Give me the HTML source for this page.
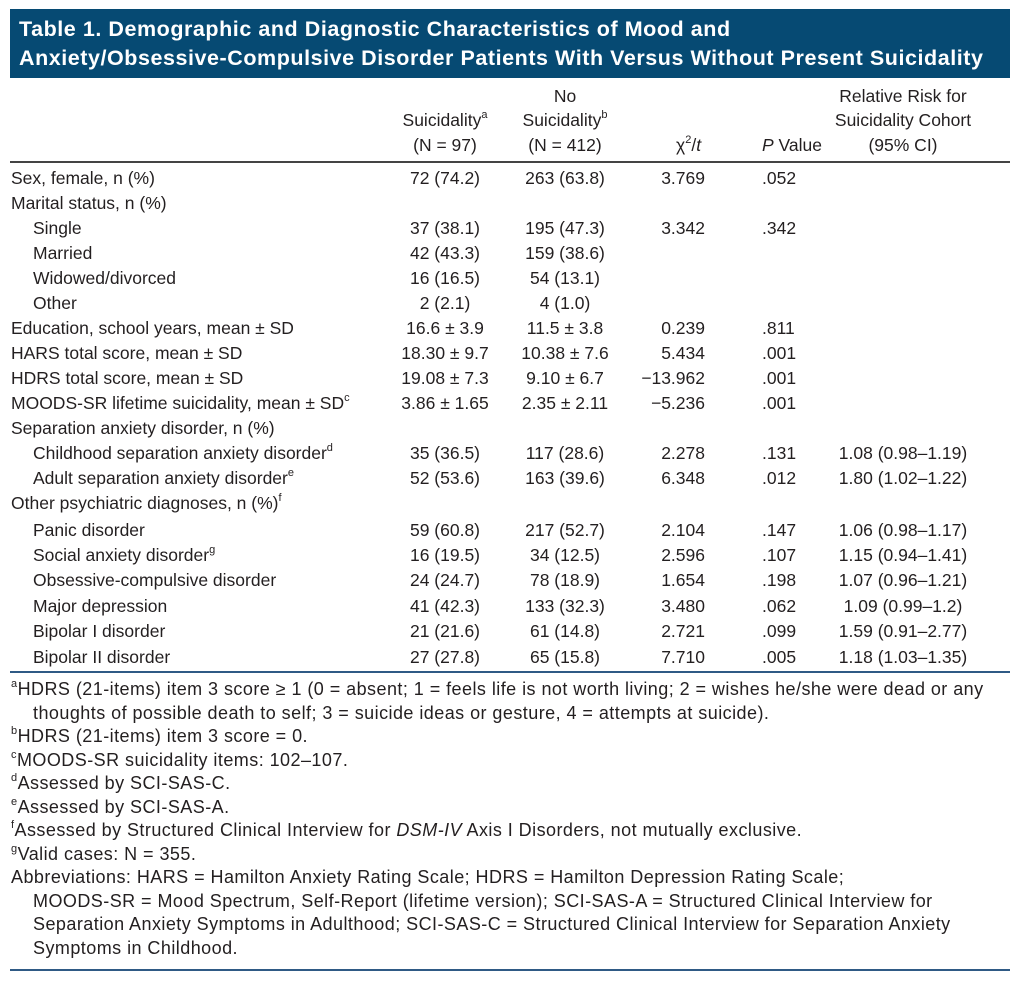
<!DOCTYPE html>
<html><head><meta charset="utf-8"><style>
body{margin:0;width:1024px;height:984px;background:#fff;font-family:"Liberation Sans",sans-serif;color:#231f20;position:relative;overflow:hidden}
.ban{position:absolute;left:10px;top:9px;width:1000px;height:69px;background:#064a73;color:#fff;font-weight:bold;font-size:21.5px;line-height:29px;padding:6px 0 0 9px;box-sizing:border-box;letter-spacing:0.55px;white-space:nowrap;overflow:hidden}
.r{position:absolute;left:0;width:1024px;height:25px;font-size:17.5px;line-height:25px;white-space:nowrap}
.r span{position:absolute}
.l{left:11px}.i{left:33px}
.c1{left:385px;width:120px;text-align:center}
.c2{left:505px;width:120px;text-align:center}
.c3{right:319px;text-align:right}
.c4{left:762px}
.c5{left:813px;width:180px;text-align:center}
sup{font-size:11px;line-height:0;position:relative;top:-1px}
.hl{position:absolute;left:10px;width:1000px}
.f{position:absolute;left:11px;font-size:18px;letter-spacing:0.45px;line-height:23.5px;white-space:nowrap}
.f div.in{padding-left:22px}
</style></head><body>
<div class="ban">Table 1. Demographic and Diagnostic Characteristics of Mood and<br>Anxiety/Obsessive-Compulsive Disorder Patients With Versus Without Present Suicidality</div>
<div class="r" style="top:84px"><span class="c2">No</span><span class="c5">Relative Risk for</span></div>
<div class="r" style="top:108px"><span class="c1">Suicidality<sup>a</sup></span><span class="c2">Suicidality<sup>b</sup></span><span class="c5">Suicidality Cohort</span></div>
<div class="r" style="top:133px"><span class="c1">(N = 97)</span><span class="c2">(N = 412)</span><span style="left:676px">χ<sup>2</sup>/<i>t</i></span><span class="c4"><i>P</i> Value</span><span class="c5">(95% CI)</span></div>
<div class="hl" style="top:161px;height:2px;background:#444"></div>
<div class="r" style="top:166px"><span class="l">Sex, female, n (%)</span><span class="c1">72 (74.2)</span><span class="c2">263 (63.8)</span><span class="c3">3.769</span><span class="c4">.052</span></div>
<div class="r" style="top:191px"><span class="l">Marital status, n (%)</span></div>
<div class="r" style="top:216px"><span class="i">Single</span><span class="c1">37 (38.1)</span><span class="c2">195 (47.3)</span><span class="c3">3.342</span><span class="c4">.342</span></div>
<div class="r" style="top:241px"><span class="i">Married</span><span class="c1">42 (43.3)</span><span class="c2">159 (38.6)</span></div>
<div class="r" style="top:266px"><span class="i">Widowed/divorced</span><span class="c1">16 (16.5)</span><span class="c2">54 (13.1)</span></div>
<div class="r" style="top:291px"><span class="i">Other</span><span class="c1">2 (2.1)</span><span class="c2">4 (1.0)</span></div>
<div class="r" style="top:316px"><span class="l">Education, school years, mean ± SD</span><span class="c1">16.6 ± 3.9</span><span class="c2">11.5 ± 3.8</span><span class="c3">0.239</span><span class="c4">.811</span></div>
<div class="r" style="top:341px"><span class="l">HARS total score, mean ± SD</span><span class="c1">18.30 ± 9.7</span><span class="c2">10.38 ± 7.6</span><span class="c3">5.434</span><span class="c4">.001</span></div>
<div class="r" style="top:366px"><span class="l">HDRS total score, mean ± SD</span><span class="c1">19.08 ± 7.3</span><span class="c2">9.10 ± 6.7</span><span class="c3">−13.962</span><span class="c4">.001</span></div>
<div class="r" style="top:391px"><span class="l">MOODS-SR lifetime suicidality, mean ± SD<sup>c</sup></span><span class="c1">3.86 ± 1.65</span><span class="c2">2.35 ± 2.11</span><span class="c3">−5.236</span><span class="c4">.001</span></div>
<div class="r" style="top:416px"><span class="l">Separation anxiety disorder, n (%)</span></div>
<div class="r" style="top:441px"><span class="i">Childhood separation anxiety disorder<sup>d</sup></span><span class="c1">35 (36.5)</span><span class="c2">117 (28.6)</span><span class="c3">2.278</span><span class="c4">.131</span><span class="c5">1.08 (0.98–1.19)</span></div>
<div class="r" style="top:466px"><span class="i">Adult separation anxiety disorder<sup>e</sup></span><span class="c1">52 (53.6)</span><span class="c2">163 (39.6)</span><span class="c3">6.348</span><span class="c4">.012</span><span class="c5">1.80 (1.02–1.22)</span></div>
<div class="r" style="top:491px"><span class="l">Other psychiatric diagnoses, n (%)<sup>f</sup></span></div>
<div class="r" style="top:518px"><span class="i">Panic disorder</span><span class="c1">59 (60.8)</span><span class="c2">217 (52.7)</span><span class="c3">2.104</span><span class="c4">.147</span><span class="c5">1.06 (0.98–1.17)</span></div>
<div class="r" style="top:543px"><span class="i">Social anxiety disorder<sup>g</sup></span><span class="c1">16 (19.5)</span><span class="c2">34 (12.5)</span><span class="c3">2.596</span><span class="c4">.107</span><span class="c5">1.15 (0.94–1.41)</span></div>
<div class="r" style="top:568px"><span class="i">Obsessive-compulsive disorder</span><span class="c1">24 (24.7)</span><span class="c2">78 (18.9)</span><span class="c3">1.654</span><span class="c4">.198</span><span class="c5">1.07 (0.96–1.21)</span></div>
<div class="r" style="top:594px"><span class="i">Major depression</span><span class="c1">41 (42.3)</span><span class="c2">133 (32.3)</span><span class="c3">3.480</span><span class="c4">.062</span><span class="c5">1.09 (0.99–1.2)</span></div>
<div class="r" style="top:619px"><span class="i">Bipolar I disorder</span><span class="c1">21 (21.6)</span><span class="c2">61 (14.8)</span><span class="c3">2.721</span><span class="c4">.099</span><span class="c5">1.59 (0.91–2.77)</span></div>
<div class="r" style="top:645px"><span class="i">Bipolar II disorder</span><span class="c1">27 (27.8)</span><span class="c2">65 (15.8)</span><span class="c3">7.710</span><span class="c4">.005</span><span class="c5">1.18 (1.03–1.35)</span></div>
<div class="hl" style="top:671px;height:2px;background:#2f5a85"></div>
<div class="f" style="top:678px">
<div><sup>a</sup>HDRS (21-items) item 3 score ≥ 1 (0 = absent; 1 = feels life is not worth living; 2 = wishes he/she were dead or any</div>
<div class="in">thoughts of possible death to self; 3 = suicide ideas or gesture, 4 = attempts at suicide).</div>
<div><sup>b</sup>HDRS (21-items) item 3 score = 0.</div>
<div><sup>c</sup>MOODS-SR suicidality items: 102–107.</div>
<div><sup>d</sup>Assessed by SCI-SAS-C.</div>
<div><sup>e</sup>Assessed by SCI-SAS-A.</div>
<div><sup>f</sup>Assessed by Structured Clinical Interview for <i>DSM-IV</i> Axis I Disorders, not mutually exclusive.</div>
<div><sup>g</sup>Valid cases: N = 355.</div>
<div>Abbreviations: HARS = Hamilton Anxiety Rating Scale; HDRS = Hamilton Depression Rating Scale;</div>
<div class="in">MOODS-SR = Mood Spectrum, Self-Report (lifetime version); SCI-SAS-A = Structured Clinical Interview for</div>
<div class="in">Separation Anxiety Symptoms in Adulthood; SCI-SAS-C = Structured Clinical Interview for Separation Anxiety</div>
<div class="in">Symptoms in Childhood.</div>
</div>
<div class="hl" style="top:969px;height:2px;background:#2f5a85"></div>
</body></html>
